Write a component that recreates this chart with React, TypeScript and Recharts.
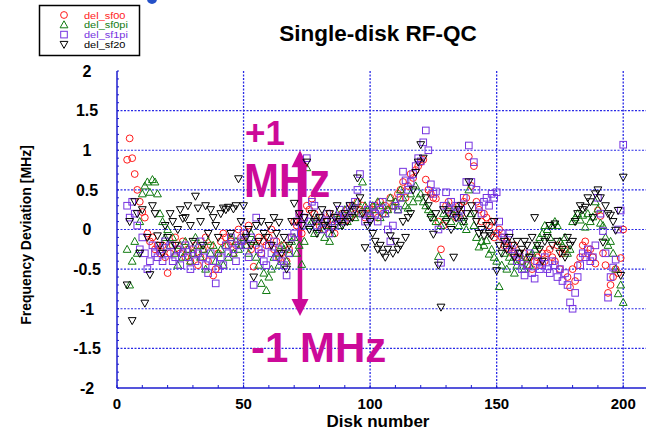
import { ScatterChart, Scatter, XAxis, YAxis, ReferenceLine } from 'recharts';

// disk numbers run from FIRST_DISK up to 200, one value per disk per series
const FIRST_DISK = 4;

const SF00 = [
  0.88, 1.15, 0.9, 0.7, 0.5, 0.35,
  0.22, 0.15, -0.05, -0.15, -0.1, -0.25, -0.2, -0.3, -0.2, -0.35,
  -0.55, -0.3, -0.2, -0.1, -0.25, -0.3, -0.15, -0.35, -0.25, -0.4,
  -0.3, -0.2, -0.45, -0.35, -0.25, -0.1, -0.4, -0.2, -0.58, -0.5,
  -0.3, -0.15, -0.05, -0.1, -0.2, -0.15, -0.3, -0.2, 0.0, -0.1,
  -0.15, -0.05, 0.05, -0.25, -0.47, -0.2, -0.1, -0.3, -0.15, -0.2,
  -0.1, 0.0, -0.25, -0.15, -0.36, -0.3, -0.2, -0.4, -0.25, -0.1,
  0.1, 0.05, 0.2, -0.05, 0.15, 0.3, 0.25, 0.39, 0.2, 0.1,
  0.05, 0.15, 0.0, 0.1, 0.2, 0.05, -0.05, 0.1, 0.15, 0.2,
  0.1, 0.25, 0.15, 0.3, 0.2, 0.35, 0.25, 0.3, 0.15, 0.2,
  0.2, 0.25, 0.3, 0.15, 0.35, 0.2, 0.3, 0.25, 0.4, 0.3,
  0.35, 0.45, 0.5, 0.6, 0.4, 0.55, 0.7, 0.65, 0.75, 0.8,
  0.85, 0.88, 0.63, 0.5, 0.45, 0.4, 0.39, 0.1, -0.25, 0.05,
  0.3, 0.35, 0.2, 0.25, 0.15, 0.3, 0.2, 0.35, 0.4, 0.92,
  0.55, 0.8, 0.35, 0.25, 0.1, 0.2, 0.15, 0.05, 0.1, -0.1,
  -0.05, 0.0, -0.1, -0.2, -0.15, -0.25, -0.3, -0.2, -0.35, -0.3,
  -0.4, -0.3, -0.45, -0.35, -0.5, -0.4, -0.35, -0.45, -0.3, -0.4,
  -0.3, -0.25, -0.35, -0.4, -0.2, -0.5, -0.3, -0.25, -0.6, -0.73,
  -0.5, -0.65, -0.45, -0.35, -0.2, -0.15, -0.3, -0.25, -0.35, -0.43,
  0.24, 0.17, -0.3, -0.45, -0.8, -0.7, -0.6, -0.5, -0.55, -0.36,
  0.0,
];

const SF0PI = [
  -0.25, -0.7, -0.4, -0.15, -0.3, 0.1,
  0.45, 0.55, 0.6, 0.47, 0.63, 0.6, 0.45, 0.2, 0.1, -0.1,
  0.0, -0.2, -0.1, -0.3, -0.45, -0.2, -0.35, -0.15, -0.25, -0.4,
  -0.3, -0.1, -0.2, -0.35, -0.25, -0.5, -0.15, -0.3, -0.2, -0.4,
  -0.3, -0.25, -0.45, -0.2, -0.35, -0.1, -0.3, -0.15, -0.25, -0.2,
  -0.1, -0.2, -0.3, -0.05, -0.15, -0.35, -0.45, -0.68, -0.55, -0.77,
  -0.6, -0.5, -0.35, -0.3, -0.45, -0.2, -0.25, -0.4, -0.3, -0.15,
  -0.1, -0.3, -0.2, -0.44, -0.15, 0.78, 0.05, 0.1, -0.05, 0.15,
  0.0, 0.1, -0.1, 0.05, -0.15, -0.05, 0.1, 0.2, 0.05, 0.15,
  0.25, 0.1, 0.2, 0.3, 0.15, 0.35, 0.2, 0.6, 0.3, 0.25,
  0.2, 0.3, 0.25, 0.35, 0.15, 0.3, 0.2, 0.25, 0.4, 0.3,
  0.35, 0.25, 0.5, 0.4, 0.3, 0.27, 0.45, 0.35, 0.55, 0.4,
  0.45, 0.35, 0.3, 0.25, 0.2, 0.15, 0.1, -0.34, 0.05, 0.2,
  0.15, 0.3, 0.1, 0.2, 0.25, 0.05, 0.15, 0.1, 0.0, 0.5,
  0.2, 0.05, -0.1, -0.22, -0.15, -0.2, -0.14, -0.31, -0.25, -0.35,
  -0.4, -0.72, -0.45, -0.3, -0.5, -0.35, -0.4, -0.55, -0.45, -0.3,
  -0.4, -0.5, -0.35, -0.45, -0.3, -0.25, -0.2, -0.1, -0.05, 0.05,
  0.0, -0.1, 0.05, 0.1, 0.05, -0.15, -0.2, -0.1, -0.3, -0.25,
  0.1, 0.15, 0.2, 0.12, 0.18, 0.03, 0.2, 0.1, 0.16, 0.35,
  0.26, 0.08, 0.05, -0.1, -0.2, -0.15, -0.3, -0.5, -0.81, -0.7,
  -0.92,
];

const SF1PI = [
  0.3, 0.15, 0.35, 0.2, 0.05, -0.25,
  -0.1, -0.3, -0.5, -0.4, -0.2, -0.3, -0.35, -0.25, -0.4, -0.15,
  -0.3, -0.2, -0.4, -0.35, -0.25, -0.45, -0.3, -0.2, -0.35, -0.5,
  -0.25, -0.4, -0.3, -0.15, -0.35, -0.45, -0.55, -0.3, -0.4, -0.68,
  -0.5, -0.35, -0.45, -0.2, -0.3, -0.1, -0.25, -0.4, -0.2, -0.15,
  -0.05, -0.2, -0.35, -0.1, -0.7, 0.15, -0.25, -0.3, -0.4, -0.45,
  -0.2, -0.3, -0.15, -0.35, -0.25, -0.4, -0.45, -0.58, -0.3, -0.1,
  -0.05, 0.1, 0.2, 0.05, 0.15, 0.9, 0.1, 0.35, 0.3, 0.05,
  0.15, 0.0, 0.1, 0.2, -0.05, 0.1, 0.05, 0.15, 0.25, 0.1,
  0.2, 0.15, 0.3, 0.25, 0.35, 0.5, 0.7, 0.2, 0.1, 0.25,
  0.15, 0.3, 0.2, 0.1, 0.25, 0.35, 0.2, 0.0, -0.15, 0.05,
  0.3, 0.25, 0.4, 0.73, 0.62, 0.5, 0.6, 0.7, 0.8, 0.9,
  0.86, 1.1, 1.25, 1.0, 0.57, 0.45, 0.48, 0.0, -0.42, 0.3,
  0.47, 0.25, 0.35, 0.2, 0.3, 0.15, 0.25, 0.4, 0.6, 1.06,
  0.6, 0.85, 0.5, 0.3, 0.2, 0.35, 0.4, 0.3, 0.45, 0.4,
  0.47, 0.1, -0.05, -0.1, -0.2, -0.05, -0.25, -0.3, -0.4, -0.35,
  -0.5, -0.58, -0.45, -0.3, -0.55, -0.62, -0.4, -0.5, -0.45, -0.35,
  -0.5, -0.55, -0.4, -0.45, -0.6, -0.5, -0.65, -0.55, -0.7, -0.92,
  -1.0, -0.8, -0.6, -0.45, -0.3, -0.35, -0.25, -0.4, -0.35, -0.2,
  0.4, 0.2, -0.02, -0.3, -0.86, -0.6, -0.48, -0.38, 0.0, 0.24,
  1.07,
];

const SF20 = [
  -0.7, 0.1, -1.15, 0.35, 0.2, -0.3,
  0.25, -0.93, -0.1, -0.57, 0.3, 0.2, -0.08, -0.2, -0.3, 0.05,
  -0.1, 0.2, 0.1, -0.2, 0.0, 0.25, 0.14, 0.15, 0.3, 0.05,
  -0.15, 0.42, 0.27, 0.1, -0.2, 0.3, -0.05, 0.25, 0.15, 0.05,
  -0.1, 0.2, 0.27, 0.25, 0.28, -0.05, 0.26, 0.3, 0.64, 0.1,
  0.3, -0.1, 0.0, -0.2, -0.6, 0.05, -0.15, 0.1, -0.05, -0.1,
  0.05, -0.2, 0.15, -0.05, 0.09, -0.3, -0.1, -0.5, -0.2, 0.1,
  0.33, 0.1, 0.2, 0.05, 0.15, 0.85, 0.0, 0.2, 0.1, -0.05,
  0.15, 0.25, 0.05, 0.1, 0.2, 0.0, 0.15, 0.3, 0.1, 0.05,
  0.2, 0.1, 0.3, 0.15, 0.25, 0.65, 0.4, 0.2, -0.23, 0.05,
  0.1, -0.05, -0.15, -0.25, -0.2, -0.3, -0.35, -0.25, -0.08, -0.3,
  -0.15, -0.25, -0.2, 0.1, -0.1, 0.15, 0.2, 0.5, 0.72, 0.85,
  1.07, 0.9, 0.4, 0.3, 0.15, -0.06, 0.2, -0.45, -0.98, 0.25,
  0.1, 0.2, 0.0, -0.35, 0.15, 0.25, 0.3, 0.1, 0.2, 0.6,
  0.3, 0.2, 0.1, -0.05, 0.0, -0.08, 0.05, -0.05, -0.08, 0.1,
  -0.52, -0.2, -0.3, -0.15, -0.25, -0.1, -0.2, -0.35, -0.15, -0.3,
  -0.25, -0.15, -0.2, -0.35, -0.1, 0.15, -0.2, -0.25, -0.4, -0.15,
  -0.1, 0.05, -0.2, 0.07, -0.15, -0.3, -0.25, -0.35, -0.1, -0.2,
  -0.15, 0.1, 0.2, 0.3, 0.25, 0.28, 0.4, 0.35, 0.15, 0.45,
  0.5, 0.4, -0.16, 0.3, 0.2, 0.18, 0.1, -0.01, 0.24, -0.58,
  0.66,
];

const X_TICKS = [0, 10, 20, 30, 40, 50, 60, 70, 80, 90, 100, 110, 120, 130, 140, 150, 160, 170, 180, 190, 200];
const X_LABELS = [0, 50, 100, 150, 200];
const Y_LABELS = [-2, -1.5, -1, -0.5, 0, 0.5, 1, 1.5, 2];
const Y_MINOR = Array.from({ length: 41 }, (_, i) => (i - 20) / 10);
const H_GRID = [-1.5, -1, -0.5, 0, 0.5, 1, 1.5];
const V_GRID = [50, 100, 150, 200];

const AXIS = '#1c1ccf';
const GRID = '#2a2ae6';
const MAGENTA = '#cc0a99';
const FONT = 'Arial, "Liberation Sans", Helvetica, sans-serif';

const RED = '#ff1a1a';
const GREEN = '#117a11';
const PURPLE = '#7633e0';
const BLACK = '#000000';

const toPoints = (vals: number[]) => vals.map((v, i) => ({ disk: FIRST_DISK + i, dev: v }));

const circle = (color: string) => (p: any) => (
  <circle cx={p.cx} cy={p.cy} r={3.4} fill="none" stroke={color} strokeWidth={1} />
);
const triUp = (color: string) => (p: any) => (
  <polygon
    points={`${p.cx},${p.cy - 4} ${p.cx - 3.9},${p.cy + 3} ${p.cx + 3.9},${p.cy + 3}`}
    fill="none"
    stroke={color}
    strokeWidth={1}
  />
);
const square = (color: string) => (p: any) => (
  <rect x={p.cx - 3.3} y={p.cy - 3.3} width={6.6} height={6.6} fill="none" stroke={color} strokeWidth={1} />
);
const triDown = (color: string) => (p: any) => (
  <polygon
    points={`${p.cx - 3.9},${p.cy - 3} ${p.cx + 3.9},${p.cy - 3} ${p.cx},${p.cy + 4}`}
    fill="none"
    stroke={color}
    strokeWidth={1}
  />
);

const SERIES = [
  { name: 'del_sf00', data: SF00, color: RED, shape: circle(RED) },
  { name: 'del_sf0pi', data: SF0PI, color: GREEN, shape: triUp(GREEN) },
  { name: 'del_sf1pi', data: SF1PI, color: PURPLE, shape: square(PURPLE) },
  { name: 'del_sf20', data: SF20, color: BLACK, shape: triDown(BLACK) },
];

function BottomTick({ x, y, payload }: any) {
  const v = payload.value;
  return (
    <g>
      <line x1={x} x2={x} y1={y} y2={y - 3} stroke={AXIS} />
      {X_LABELS.includes(v) && (
        <text x={x} y={y + 21} textAnchor="middle" fontFamily={FONT} fontWeight="bold" fontSize={15} fill="#000">
          {v}
        </text>
      )}
    </g>
  );
}

function TopTick({ x, y }: any) {
  return <line x1={x} x2={x} y1={y} y2={y + 3} stroke={AXIS} />;
}

function LeftTick({ x, y, payload }: any) {
  const v = payload.value;
  const isLabel = Y_LABELS.some((l) => Math.abs(l - v) < 1e-6);
  return (
    <g>
      <line x1={x} x2={x + 2} y1={y} y2={y} stroke={AXIS} />
      {isLabel && (
        <text x={x - 30} y={y} dy="0.36em" textAnchor="middle" fontFamily={FONT} fontWeight="bold" fontSize={16} fill="#000">
          {v}
        </text>
      )}
    </g>
  );
}

function DoubleArrow(props: any) {
  const { x1, y1, y2 } = props;
  const top = Math.min(y1, y2);
  const bot = Math.max(y1, y2);
  const hw = 8.5;
  const hh = 17;
  return (
    <g>
      <line x1={x1} x2={x1} y1={top + hh - 2} y2={bot - hh + 2} stroke={MAGENTA} strokeWidth={4.5} />
      <polygon points={`${x1},${top} ${x1 - hw},${top + hh} ${x1 + hw},${top + hh}`} fill={MAGENTA} />
      <polygon points={`${x1},${bot} ${x1 - hw},${bot - hh} ${x1 + hw},${bot - hh}`} fill={MAGENTA} />
    </g>
  );
}

export default function App() {
  return (
    <div style={{ position: 'absolute', left: 0, top: 0, width: 646, height: 430, background: '#fff' }}>
      <ScatterChart width={646} height={430} margin={{ top: 71, right: 0, bottom: 0, left: 0 }}>
        <XAxis
          dataKey="disk"
          type="number"
          domain={[0, 209]}
          ticks={X_TICKS}
          interval={0}
          height={42}
          tickSize={0}
          tickMargin={0}
          tick={<BottomTick />}
          axisLine={{ stroke: AXIS, strokeWidth: 1.5 }}
          tickLine={false}
        />
        <XAxis
          xAxisId="top"
          orientation="top"
          dataKey="disk"
          type="number"
          domain={[0, 209]}
          ticks={X_TICKS}
          interval={0}
          height={0}
          tickSize={0}
          tickMargin={0}
          tick={<TopTick />}
          axisLine={{ stroke: AXIS, strokeWidth: 1.5 }}
          tickLine={false}
        />
        <YAxis
          dataKey="dev"
          type="number"
          domain={[-2, 2]}
          ticks={Y_MINOR}
          interval={0}
          width={117}
          tickSize={0}
          tickMargin={0}
          tick={<LeftTick />}
          axisLine={{ stroke: AXIS, strokeWidth: 1.5 }}
          tickLine={false}
        />
        {H_GRID.map((v) => (
          <ReferenceLine key={`h${v}`} y={v} stroke={GRID} strokeDasharray="2 1.5" strokeWidth={1.1} />
        ))}
        {V_GRID.map((v) => (
          <ReferenceLine key={`v${v}`} x={v} stroke={GRID} strokeDasharray="2 1.5" strokeWidth={1.3} />
        ))}
        {SERIES.map((s) => (
          <Scatter
            key={s.name}
            name={s.name}
            data={toPoints(s.data)}
            shape={s.shape}
            isAnimationActive={false}
          />
        ))}
        <ReferenceLine
          segment={[
            { x: 72.3, y: 1.0 },
            { x: 72.3, y: -1.09 },
          ]}
          shape={DoubleArrow}
        />
      </ScatterChart>

      <svg
        width={646}
        height={430}
        style={{ position: 'absolute', left: 0, top: 0, pointerEvents: 'none' }}
      >
        <circle cx={152} cy={-1} r={5} fill="#2450c8" />
        <rect x={39.5} y={5.5} width={100} height={50} fill="#fff" stroke="#000" strokeWidth={1.5} />
        {SERIES.map((s, i) => {
          const cy = 15 + i * 9.8;
          return (
            <g key={s.name}>
              {s.shape({ cx: 64, cy })}
              <text
                transform={`translate(84,${cy}) scale(1.12,1)`}
                dy="0.36em"
                fontFamily={FONT}
                fontSize={9.8}
                fill={s.color}
              >
                {s.name}
              </text>
            </g>
          );
        })}
        <text x={378} y={41} textAnchor="middle" fontFamily={FONT} fontWeight="bold" fontSize={22.5} fill="#000">
          Single-disk RF-QC
        </text>
        <text
          transform="translate(31,235) rotate(-90)"
          textAnchor="middle"
          fontFamily={FONT}
          fontWeight="bold"
          fontSize={14}
          fill="#000"
        >
          Frequency Deviation [MHz]
        </text>
        <text x={378} y={427} textAnchor="middle" fontFamily={FONT} fontWeight="bold" fontSize={17} fill="#000">
          Disk number
        </text>
        <text x={245} y={145} fontFamily={FONT} fontWeight="bold" fontSize={35} fill={MAGENTA}>
          +1
        </text>
        <text transform="translate(244,197) scale(1,1.15)" fontFamily={FONT} fontWeight="bold" fontSize={42} fill={MAGENTA}>
          MHz
        </text>
        <text x={251} y={362} fontFamily={FONT} fontWeight="bold" fontSize={42} fill={MAGENTA}>
          -1 MHz
        </text>
      </svg>
    </div>
  );
}
